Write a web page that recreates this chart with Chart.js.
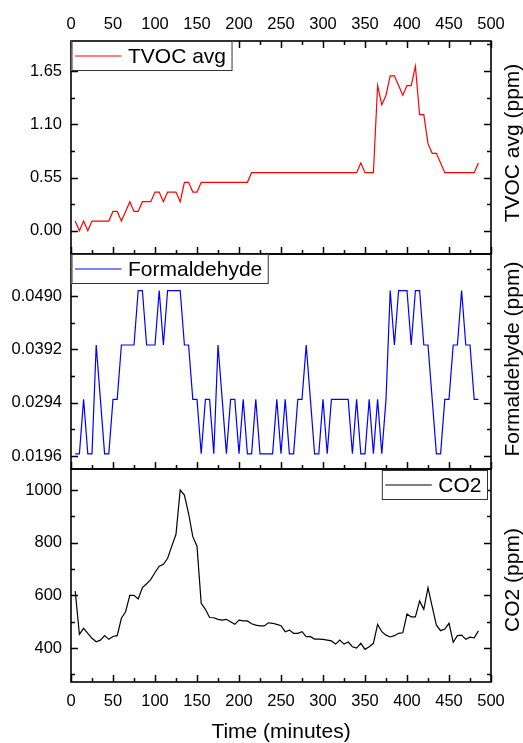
<!DOCTYPE html>
<html><head><meta charset="utf-8">
<script src="https://cdn.jsdelivr.net/npm/chart.js@4/dist/chart.umd.min.js"></script>
<style>
html,body{margin:0;padding:0;background:#fff;}
#wrap{position:relative;width:523px;height:743px;background:#fff;}
canvas{position:absolute;left:0;top:0;}
</style></head><body>
<div id="wrap">
<canvas id="c1" width="523" height="743"></canvas>
<canvas id="c2" width="523" height="743"></canvas>
<canvas id="c3" width="523" height="743"></canvas>
</div>
<script>
// ---- data ----
const times = [5,10,15,20,25,30,35,40,45,50,55,60,65,70,75,80,85,90,95,100,
105,110,115,120,125,130,135,140,145,150,155,160,165,170,175,180,185,190,195,200,
205,210,215,220,225,230,235,240,245,250,255,260,265,270,275,280,285,290,295,300,
305,310,315,320,325,330,335,340,345,350,355,360,365,370,375,380,385,390,395,400,
405,410,415,420,425,430,435,440,445,450,455,460,465,470,475,480,485];

const tvoc = [0.1,0.0,0.1,0.0,0.1,0.1,0.1,0.1,0.1,0.2,0.2,0.1,0.2,0.3,0.2,0.2,0.3,0.3,0.3,0.4,
0.4,0.3,0.4,0.4,0.4,0.3,0.5,0.5,0.4,0.4,0.5,0.5,0.5,0.5,0.5,0.5,0.5,0.5,0.5,0.5,
0.5,0.5,0.6,0.6,0.6,0.6,0.6,0.6,0.6,0.6,0.6,0.6,0.6,0.6,0.6,0.6,0.6,0.6,0.6,0.6,
0.6,0.6,0.6,0.6,0.6,0.6,0.6,0.6,0.7,0.6,0.6,0.6,1.5,1.3,1.4,1.6,1.6,1.5,1.4,1.5,
1.5,1.7,1.2,1.2,0.9,0.8,0.8,0.7,0.6,0.6,0.6,0.6,0.6,0.6,0.6,0.6,0.7];

const formaldehyde = [0.02,0.02,0.03,0.02,0.02,0.04,0.03,0.02,0.02,0.03,0.03,0.04,0.04,0.04,0.04,0.05,0.05,0.04,0.04,0.04,
0.05,0.04,0.05,0.05,0.05,0.05,0.04,0.04,0.03,0.03,0.02,0.03,0.03,0.02,0.04,0.03,0.02,0.03,0.03,0.02,
0.03,0.02,0.02,0.03,0.02,0.02,0.02,0.02,0.03,0.02,0.03,0.02,0.02,0.03,0.03,0.04,0.03,0.02,0.02,0.03,
0.02,0.03,0.03,0.03,0.03,0.03,0.02,0.03,0.02,0.02,0.03,0.02,0.03,0.02,0.03,0.05,0.04,0.05,0.05,0.05,
0.04,0.05,0.05,0.04,0.04,0.03,0.02,0.02,0.03,0.03,0.04,0.04,0.05,0.04,0.04,0.03,0.03];

const co2 = [616,452,475,456,437,424,430,447,433,444,447,513,538,600,600,586,630,644,661,687,
711,718,741,787,832,1000,981,911,823,787,570,547,516,515,509,506,509,500,490,506,
503,503,492,487,484,484,496,494,490,485,462,468,456,456,462,443,443,434,434,433,
430,427,415,430,415,423,405,400,418,395,405,418,490,462,449,442,447,456,458,529,
518,518,579,547,629,557,487,466,472,494,422,447,449,433,441,439,465];

const xTicks = [0,50,100,150,200,250,300,350,400,450,500];
const tvocTicks = [0.00,0.55,1.10,1.65];
const hchoTicks = [0.0196,0.0294,0.0392,0.0490];
const co2Ticks = [400,600,800,1000];

// ---- styling ----
const FONT = '"Liberation Sans", Arial, Helvetica, sans-serif';
const W = 523, H = 743;

const deco = {
  id: 'deco',
  afterDatasetsDraw(chart, args, o) {
    const ctx = chart.ctx;
    const a = chart.chartArea;
    const xs = chart.scales.x, ys = chart.scales.y;
    ctx.save();
    ctx.strokeStyle = '#000';
    ctx.lineWidth = 1.5;
    ctx.lineCap = 'butt';
    const maj = 7, min = 4;
    // x ticks
    const xStep = xTicks[1] - xTicks[0];
    ctx.beginPath();
    for (let v = xs.min; v <= xs.max + 1e-9; v += xStep / 2) {
      const px = Math.round(xs.getPixelForValue(v)) + 0.5;
      const isMaj = Math.abs((v / xStep) - Math.round(v / xStep)) < 1e-6;
      const len = isMaj ? maj : min;
      ctx.moveTo(px, a.bottom); ctx.lineTo(px, a.bottom - len);
      if (o.topTicks) { ctx.moveTo(px, a.top); ctx.lineTo(px, a.top + len); }
    }
    // y ticks
    const t = o.yt, yStep = t[1] - t[0];
    for (let k = -2; k <= 2 * t.length + 2; k++) {
      const v = t[0] + k * yStep / 2;
      if (v < ys.min - 1e-12 || v > ys.max + 1e-12) continue;
      const py = Math.round(ys.getPixelForValue(v)) + 0.5;
      const len = (k % 2 === 0) ? maj : min;
      ctx.moveTo(a.left, py); ctx.lineTo(a.left + len, py);
      ctx.moveTo(a.right, py); ctx.lineTo(a.right - len, py);
    }
    ctx.stroke();
    // frame
    ctx.lineWidth = 1.6;
    ctx.strokeRect(a.left, a.top, a.right - a.left, a.bottom - a.top);

    // legend
    const ds = chart.data.datasets[0];
    ctx.font = '21px ' + FONT;
    const tw = ctx.measureText(ds.label).width;
    const lw = 57 + tw + 6, lh = 30;
    const lx = o.legendRight ? a.right - 3 - lw : a.left + 0.5;
    const ly = a.top + (o.legendRight ? 1 : 0);
    ctx.fillStyle = '#fff';
    ctx.fillRect(lx, ly, lw, lh);
    ctx.strokeStyle = '#333';
    ctx.lineWidth = 1;
    ctx.strokeRect(lx + 0.5, ly + 0.5, lw - 1, lh - 1);
    ctx.strokeStyle = ds.borderColor;
    ctx.lineWidth = 1.2;
    ctx.beginPath();
    ctx.moveTo(lx + 3.5, ly + lh / 2); ctx.lineTo(lx + 50, ly + lh / 2);
    ctx.stroke();
    ctx.fillStyle = '#000';
    ctx.textBaseline = 'middle';
    ctx.textAlign = 'left';
    ctx.fillText(ds.label, lx + 56.5, ly + lh / 2 + 1);

    // right title
    ctx.save();
    ctx.translate(513, o.titleY);
    ctx.rotate(-Math.PI / 2);
    ctx.textAlign = 'center';
    ctx.textBaseline = 'middle';
    ctx.font = '21px ' + FONT;
    ctx.fillText(o.title, 0, 0);
    ctx.restore();
    ctx.restore();
  }
};

function makeChart(id, cfg) {
  const xAxis = {
    type: 'linear', min: 0, max: 500,
    position: cfg.xPos, display: cfg.xShow,
    afterBuildTicks: s => { s.ticks = xTicks.map(v => ({ value: v })); },
    grid: { display: false, drawTicks: false },
    border: { display: false },
    ticks: { color: '#000', font: { family: FONT, size: 16.5 }, padding: cfg.xPad, maxRotation: 0, autoSkip: false },
    title: cfg.xTitle ? { display: true, text: cfg.xTitle, color: '#000', font: { family: FONT, size: 21 }, padding: { top: 0, bottom: -2 } } : { display: false },
    afterFit: s => { s.height = cfg.xH; }
  };
  const yAxis = {
    type: 'linear', min: cfg.yMin, max: cfg.yMax, position: 'left',
    afterBuildTicks: s => { s.ticks = cfg.yt.map(v => ({ value: v })); },
    grid: { display: false, drawTicks: false },
    border: { display: false },
    ticks: { color: '#000', font: { family: FONT, size: 16.5 }, padding: 9, callback: cfg.fmt },
    afterFit: s => { s.width = 71; }
  };
  return new Chart(document.getElementById(id), {
    type: 'line',
    data: {
      datasets: [{
        label: cfg.label,
        data: times.map((t, i) => ({ x: t, y: cfg.values[i] })),
        borderColor: cfg.color, borderWidth: 1.2,
        pointRadius: 0, tension: 0, fill: false
      }]
    },
    options: {
      responsive: false, animation: false, devicePixelRatio: 1,
      layout: { padding: cfg.pad },
      scales: { x: xAxis, y: yAxis },
      plugins: {
        legend: { display: false }, tooltip: { enabled: false },
        deco: { yt: cfg.yt, topTicks: cfg.topTicks, legendRight: cfg.legendRight, title: cfg.title, titleY: cfg.titleY }
      }
    },
    plugins: [deco]
  });
}

makeChart('c1', {
  label: 'TVOC avg', values: tvoc, color: '#ff0000',
  yMin: -0.24, yMax: 1.96, yt: tvocTicks, fmt: v => v.toFixed(2),
  xPos: 'top', xShow: true, xPad: 7, xH: 41,
  pad: { top: 0, bottom: H - 254, left: 0, right: 32 },
  topTicks: true, legendRight: false, title: 'TVOC avg (ppm)', titleY: 143
});
makeChart('c2', {
  label: 'Formaldehyde', values: formaldehyde, color: '#0000ff',
  yMin: 0.01721, yMax: 0.05672, yt: hchoTicks, fmt: v => v.toFixed(4),
  xPos: 'bottom', xShow: false, xPad: 8, xH: 0,
  pad: { top: 254, bottom: H - 469, left: 0, right: 32 },
  topTicks: false, legendRight: false, title: 'Formaldehyde (ppm)', titleY: 359
});
makeChart('c3', {
  label: 'CO2', values: co2, color: '#000000',
  yMin: 271, yMax: 1080, yt: co2Ticks, fmt: v => String(Math.round(v)),
  xPos: 'bottom', xShow: true, xPad: 10, xH: 61, xTitle: 'Time (minutes)',
  pad: { top: 469, bottom: 0, left: 0, right: 32 },
  topTicks: false, legendRight: true, title: 'CO2 (ppm)', titleY: 580
});
</script>
</body></html>
